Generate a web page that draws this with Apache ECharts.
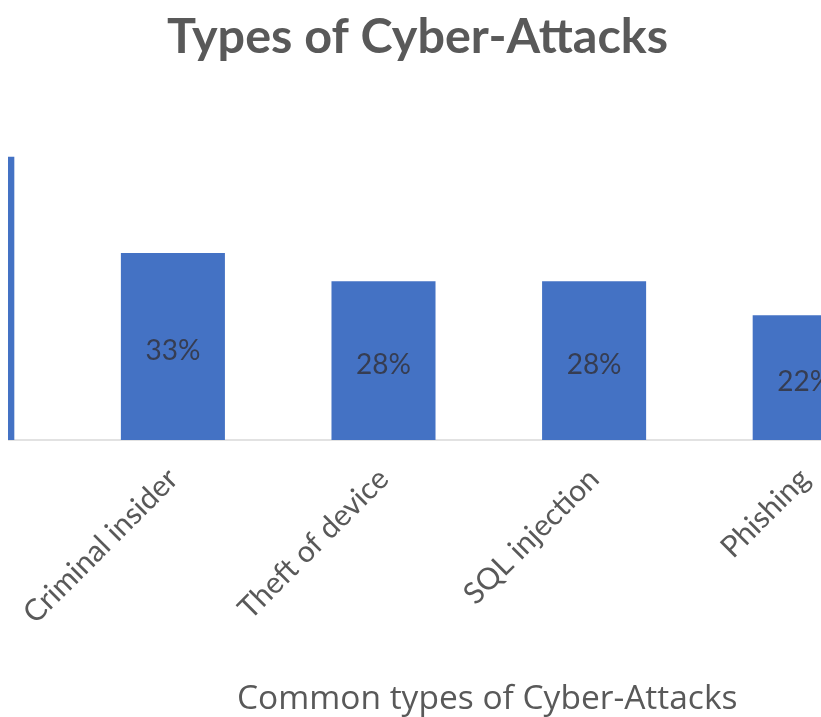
<!DOCTYPE html>
<html>
<head>
<meta charset="utf-8">
<script src="https://cdn.jsdelivr.net/npm/echarts@6/dist/echarts.min.js"></script>
<style>
  html, body { margin: 0; padding: 0; background: #ffffff; overflow: hidden; width: 821px; height: 717px; position: relative; }
  /* Visible window onto a plot that is wider than the page */
  #frame { position: absolute; left: 8px; top: 0; width: 813px; height: 717px; overflow: hidden; }
  #chart { position: absolute; left: -151px; top: 0; width: 1053px; height: 717px; }
</style>
</head>
<body>
<div id="frame"><div id="chart"></div></div>
<script>
// Attack categories (the first one sits mostly off the left edge)
const categories = ['', 'Criminal insider', 'Theft of device', 'SQL injection', 'Phishing'];
// Share of organisations affected, in percent
const shares = [50, 33, 28, 28, 22];

const textColor = '#595959';
const barColor = '#4472C4';
const fontFamily = 'Lato, "Open Sans", sans-serif';
const shift = 151; // chart canvas starts this far left of the page

const chart = echarts.init(document.getElementById('chart'));
chart.setOption({
  backgroundColor: '#ffffff',
  animation: false,
  title: {
    text: 'Types of Cyber-Attacks',
    left: 162 + shift - 8,
    top: 8,
    textStyle: { color: textColor, fontSize: 48.5, fontWeight: 'bold', fontFamily: fontFamily }
  },
  graphic: [{
    type: 'text',
    x: 237 + shift - 8,
    y: 699,
    style: {
      text: 'Common types of Cyber-Attacks',
      fill: textColor,
      font: '33.5px "Open Sans", sans-serif',
      verticalAlign: 'middle'
    }
  }],
  grid: { left: 0, right: 0, top: 100, height: 340 },
  xAxis: {
    type: 'category',
    data: categories,
    axisLine: { show: true, lineStyle: { color: '#d9d9d9', width: 1.5 } },
    axisTick: { show: false },
    axisLabel: {
      interval: 0,
      rotate: 45,
      margin: 34,
      color: textColor,
      fontSize: 30,
      fontFamily: fontFamily
    }
  },
  yAxis: {
    type: 'value',
    min: 0,
    max: 60,
    show: false,
    splitLine: { show: false }
  },
  series: [{
    type: 'bar',
    data: shares,
    barWidth: '49.4%',
    itemStyle: { color: barColor },
    label: {
      show: true,
      position: 'inside',
      offset: [0, 4],
      formatter: '{c}%',
      color: '#363d52',
      fontSize: 28,
      fontFamily: fontFamily
    }
  }]
});
</script>
</body>
</html>
